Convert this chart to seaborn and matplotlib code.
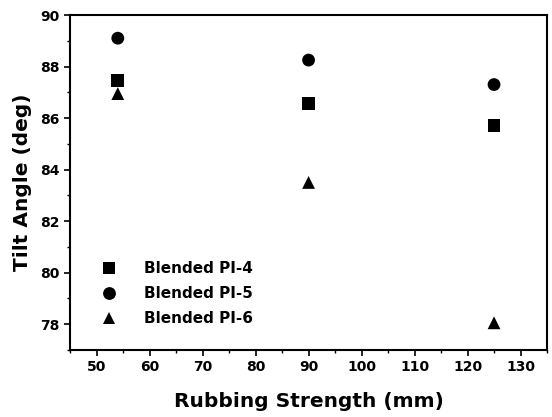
import matplotlib
matplotlib.use("Agg")
import matplotlib.pyplot as plt
import seaborn as sns
import pandas as pd
from matplotlib.ticker import MultipleLocator

# Data
rubbing = [54, 90, 125]
pi4 = [87.45, 86.55, 85.7]
pi5 = [89.1, 88.25, 87.3]
pi6 = [86.95, 83.5, 78.05]
labels = ["Blended PI-4", "Blended PI-5", "Blended PI-6"]

df = pd.DataFrame({
    "Rubbing": rubbing * 3,
    "Tilt": pi4 + pi5 + pi6,
    "Sample": [labels[0]] * 3 + [labels[1]] * 3 + [labels[2]] * 3,
})

sns.set_style("ticks")
plt.rcParams['font.family'] = ['DejaVu Sans']
plt.rcParams['font.weight'] = 'bold'
plt.rcParams['text.color'] = 'black'
plt.rcParams['axes.labelcolor'] = 'black'
plt.rcParams['xtick.color'] = 'black'
plt.rcParams['ytick.color'] = 'black'

fig = plt.figure(figsize=(5.52, 4.17), dpi=100)
ax = fig.add_axes([0.127, 0.161, 0.864, 0.803])

sns.scatterplot(data=df, x="Rubbing", y="Tilt", hue="Sample", style="Sample",
                markers={labels[0]: "s", labels[1]: "o", labels[2]: "^"},
                palette={l: "black" for l in labels}, s=85, edgecolor="black",
                linewidth=0, ax=ax)

ax.set_xlim(45, 135)
ax.set_ylim(77, 90)
ax.xaxis.set_major_locator(MultipleLocator(10))
ax.xaxis.set_minor_locator(MultipleLocator(5))
ax.yaxis.set_major_locator(MultipleLocator(2))
ax.yaxis.set_minor_locator(MultipleLocator(1))
ax.tick_params(which="major", direction="out", length=4, width=1.2, labelsize=10)
ax.tick_params(which="minor", direction="out", length=2.5, width=1)
for sp in ax.spines.values():
    sp.set_linewidth(1.5)
    sp.set_color("black")
for t in ax.get_xticklabels() + ax.get_yticklabels():
    t.set_fontweight("bold")

ax.set_xlabel("Rubbing Strength (mm)", fontsize=14.5, fontweight="bold", labelpad=13)
ax.set_ylabel("Tilt Angle (deg)", fontsize=14.5, fontweight="bold", labelpad=6)

leg = ax.legend(loc="lower left", bbox_to_anchor=(0.02, 0.03), frameon=False,
                fontsize=11, handletextpad=1.3, labelspacing=0.65, markerscale=1.0)
for t in leg.get_texts():
    t.set_fontweight("bold")

fig.savefig("out.png", dpi=100)
